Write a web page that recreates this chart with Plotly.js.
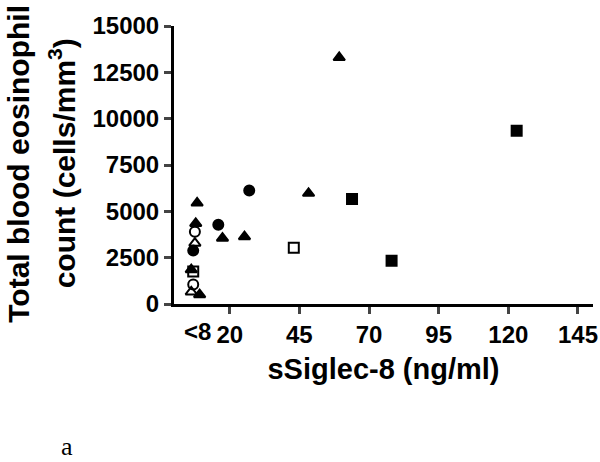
<!DOCTYPE html>
<html>
<head>
<meta charset="utf-8">
<script src="https://cdn.plot.ly/plotly-3.0.1.min.js"></script>
<style>
  html, body { margin: 0; padding: 0; background: #fff; }
  #chart { width: 600px; height: 462px; }
</style>
</head>
<body>
<div id="chart"></div>
<script>
// values (x: sSiglec-8 ng/ml, y: eosinophils cells/mm3)
const triFilledX = [59.3, 48.3, 17.4, 25.3, 8.3, 7.8, 6.2, 9.2];
const triFilledY = [13300, 5970, 3550, 3630, 5450, 4350, 1850, 500];
const circFilledX = [27.0, 15.9, 6.9];
const circFilledY = [6120, 4270, 2880];
const sqFilledX = [123.0, 63.9, 78.1];
const sqFilledY = [9350, 5670, 2340];
const sqOpenX = [43.0, 6.9];
const sqOpenY = [3030, 1750];
const circOpenX = [7.5, 6.9];
const circOpenY = [3900, 1050];
const triOpenX = [7.5, 6.2];
const triOpenY = [3280, 650];

const xTicks = [20, 45, 70, 95, 120, 145];
const yTicks = [0, 2500, 5000, 7500, 10000, 12500, 15000];
const yTickText = ['0', '2500', '5000', '7500', '10000', '12500', '15000'];
const yTitleLines = ['Total blood eosinophil', 'count (cells/mm<sup>3</sup>)'];

const FONT = 'Liberation Sans, Arial, sans-serif';

function pts(x, y, symbol, size) {
  return { x, y, type: 'scatter', mode: 'markers', cliponaxis: false,
           marker: { symbol, size, color: '#000', line: { color: '#000', width: 2 } } };
}

const traces = [
  pts(triFilledX, triFilledY, 'triangle-up', 10),
  pts(circFilledX, circFilledY, 'circle', 10),
  pts(sqFilledX, sqFilledY, 'square', 10),
  pts(sqOpenX, sqOpenY, 'square-open', 10),
  pts(circOpenX, circOpenY, 'circle-open', 10),
  pts(triOpenX, triOpenY, 'triangle-up-open', 10),
];

// y title drawn as two rotated lines, the source has wide line spacing
const yTitle = yTitleLines.map((t, i) => ({
  text: t, textangle: -90, x: [-0.372, -0.268][i], xref: 'paper', y: 0.505, yref: 'paper',
  showarrow: false, xanchor: 'center', yanchor: 'middle',
  font: { family: FONT, size: 30, weight: 'bold' },
}));

const layout = {
  width: 600, height: 462,
  paper_bgcolor: '#fff', plot_bgcolor: '#fff',
  showlegend: false,
  margin: { l: 174, r: 7, t: 26, b: 158 },
  font: { family: FONT, color: '#000' },
  xaxis: {
    range: [0, 150.4], tickvals: xTicks, ticks: 'outside', ticklen: 7, tickwidth: 3,
    showline: true, linewidth: 3, linecolor: '#000', showgrid: false, zeroline: false,
    tickfont: { family: FONT, size: 24, weight: 'bold' },
    title: { text: 'sSiglec-8 (ng/ml)', standoff: 12,
             font: { family: FONT, size: 29, weight: 'bold' } },
  },
  yaxis: {
    range: [0, 15000], tickvals: yTicks, ticktext: yTickText,
    ticks: 'outside', ticklen: 7, tickwidth: 3,
    showline: true, linewidth: 3, linecolor: '#000', showgrid: false, zeroline: false,
    tickfont: { family: FONT, size: 24, weight: 'bold' },
  },
  annotations: [
    ...yTitle,
    { text: '<8', x: 8.3, xref: 'x', y: -0.1, yref: 'paper', showarrow: false,
      xanchor: 'center', yanchor: 'middle',
      font: { family: FONT, size: 24, weight: 'bold' } },
    { text: 'a', x: -0.255, xref: 'paper', y: -0.514, yref: 'paper', showarrow: false,
      xanchor: 'center', yanchor: 'middle',
      font: { family: 'Liberation Serif, Times New Roman, serif', size: 26 } },
  ],
};

Plotly.newPlot('chart', traces, layout, { displayModeBar: false, staticPlot: true });
</script>
</body>
</html>
